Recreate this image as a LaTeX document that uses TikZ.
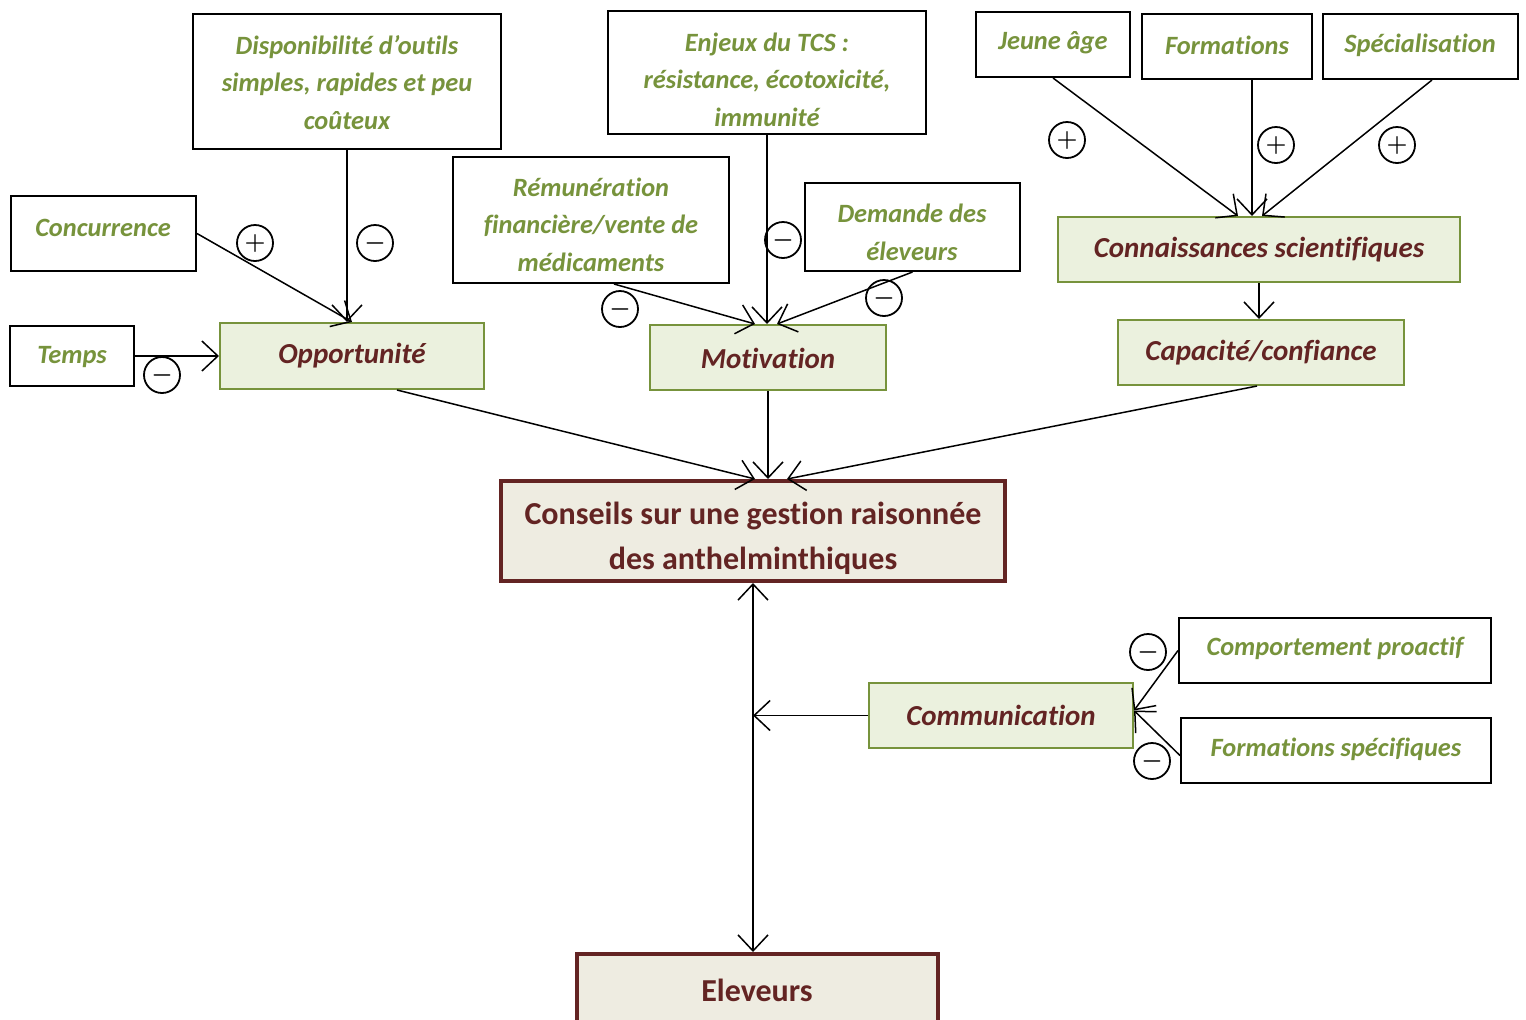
\documentclass[tikz,border=0pt]{standalone}
\usepackage{fontspec}
\setmainfont{Carlito}[Ligatures={NoCommon,NoRare}]
\usetikzlibrary{arrows.meta,fit}
\definecolor{txtgreen}{HTML}{77933C}
\definecolor{boxgreen}{HTML}{EBF1DE}
\definecolor{darkred}{HTML}{632423}
\definecolor{mainfill}{HTML}{EEECE1}
\begin{document}
\begin{tikzpicture}[x=0.5pt,y=-0.5pt,
  wbox/.style={draw=black, line width=1pt, fill=white, inner sep=0pt},
  gbox/.style={draw=txtgreen, line width=1pt, fill=boxgreen, inner sep=0pt},
  mbox/.style={draw=darkred, line width=2pt, fill=mainfill, inner sep=0pt},
  gtxt/.style={text=txtgreen, font=\fontsize{13.2}{18.75}\selectfont\bfseries\itshape, align=center, inner sep=0pt, yshift=-1.25pt},
  rtxt/.style={text=darkred, font=\fontsize{14.5}{17}\selectfont\bfseries\itshape, inner sep=0pt, yshift=-1.5pt},
  mtxt/.style={text=darkred, font=\fontsize{16}{22.5}\selectfont\bfseries, align=center, inner sep=0pt, yshift=-1.5pt},
  sign/.style={circle, draw, line width=0.9pt, minimum size=18pt, inner sep=0pt, font=\fontsize{12}{12}\selectfont\boldmath},
  arr/.style={-{Straight Barb[length=8pt,width=15pt]}, line width=0.75pt},
  darr/.style={{Straight Barb[length=8pt,width=15pt]}-{Straight Barb[length=8pt,width=15pt]}, line width=0.75pt}]
\clip (0,0) rectangle (1526,1019);
\fill[white] (0,0) rectangle (1526,1019);

% white boxes
\node[wbox, fit={(193,14) (501,149)}] (disp) {};
\node[gtxt] (disp-t) at (347,80) {Disponibilité d’outils\\simples, rapides et peu\\coûteux};
\node[wbox, fit={(608,11) (926,134)}] (enj) {};
\node[gtxt] (enj-t) at (767,77) {Enjeux du TCS :\\résistance, écotoxicité,\\immunité};
\node[wbox, fit={(976,12) (1130,77)}] (jeune) {};
\node[gtxt] (jeune-t) at (1053,40) {Jeune âge};
\node[wbox, fit={(1142,14) (1312,79)}] (form) {};
\node[gtxt] (form-t) at (1227,43) {Formations};
\node[wbox, fit={(1323,14) (1518,79)}] (spec) {};
\node[gtxt] (spec-t) at (1420,43) {Spécialisation};
\node[wbox, fit={(11,196) (196,271)}] (conc) {};
\node[gtxt] (conc-t) at (103,225) {Concurrence};
\node[wbox, fit={(10,326) (134,386)}] (temps) {};
\node[gtxt] (temps-t) at (72,355) {Temps};
\node[wbox, fit={(453,157) (729,283)}] (rem) {};
\node[gtxt] (rem-t) at (591,222) {Rémunération\\financière/vente de\\médicaments};
\node[wbox, fit={(805,183) (1020,271)}] (dem) {};
\node[gtxt] (dem-t) at (912,230) {Demande des\\éleveurs};
\node[wbox, fit={(1179,618) (1491,683)}] (comp) {};
\node[gtxt] (comp-t) at (1335,646) {Comportement proactif};
\node[wbox, fit={(1181,718) (1491,783)}] (fs) {};
\node[gtxt] (fs-t) at (1336,747) {Formations spécifiques};

% green boxes
\node[gbox, fit={(220,323) (484,389)}] (opp) {};
\node[rtxt] (opp-t) at (352,353) {Opportunité};
\node[gbox, fit={(650,325) (886,390)}] (mot) {};
\node[rtxt] (mot-t) at (768,355) {Motivation};
\node[gbox, fit={(1058,217) (1460,282)}] (conn) {};
\node[rtxt] (conn-t) at (1259,247) {Connaissances scientifiques};
\node[gbox, fit={(1118,320) (1404,385)}] (cap) {};
\node[rtxt] (cap-t) at (1261,350) {Capacité/confiance};
\node[gbox, fit={(869,683) (1133,748)}] (comm) {};
\node[rtxt] (comm-t) at (1001,712) {Communication};

% main boxes
\node[mbox, fit={(501,481) (1005,581)}] (cons) {};
\node[mtxt] (cons-t) at (753,535) {Conseils sur une gestion raisonnée\\des anthelminthiques};
\node[mbox, fit={(577,954) (938,1040)}] (elev) {};
\node[mtxt] (elev-t) at (757,987) {Eleveurs};

% connectors
\draw[arr] (disp.south) -- (disp.south |- opp.north);
\draw[arr] (conc.east) -- (opp.north);
\draw[arr] (temps.east) -- (temps.east -| opp.west);
\draw[arr] ([xshift=11.5pt]rem.south) -- ([xshift=-6.5pt]mot.north);
\draw[arr] (enj.south) -- (enj.south |- mot.north);
\draw[arr] (dem.south) -- ([xshift=4.5pt]mot.north);
\draw[arr] (jeune.south) -- ([xshift=-10.5pt]conn.north);
\coordinate (formstart) at ([xshift=12.5pt]form.south);
\draw[arr] (formstart) -- (formstart |- conn.north);
\draw[arr] ([xshift=5.75pt]spec.south) -- ([xshift=1.5pt]conn.north);
\draw[arr] (conn.south) -- (conn.south |- cap.north);
\draw[arr] ([xshift=22.5pt]opp.south) -- ([xshift=1pt]cons.north);
\draw[arr] (mot.south) -- (mot.south |- cons.north);
\draw[arr] ([xshift=-2pt]cap.south) -- ([xshift=17pt]cons.north);
\draw[darr] (cons.south) -- (cons.south |- elev.north);
\coordinate (cj) at (cons.south |- comm.west);
\draw[arr] (comm.west) -- (cj);
\draw[arr] (comp.west) -- ([yshift=2.5pt]comm.east);
\draw[arr] ([yshift=-2.5pt]fs.west) -- ([yshift=2.5pt]comm.east);

% signs
\node[sign] (s1) at (255,243) {$+$};
\node[sign] (s2) at (375,243) {$-$};
\node[sign] (s3) at (162,375) {$-$};
\node[sign] (s4) at (620,309) {$-$};
\node[sign] (s5) at (783,240) {$-$};
\node[sign] (s6) at (884,298) {$-$};
\node[sign] (s7) at (1067,140) {$+$};
\node[sign] (s8) at (1276,145) {$+$};
\node[sign] (s9) at (1397,145) {$+$};
\node[sign] (s10) at (1148,652) {$-$};
\node[sign] (s11) at (1152,761) {$-$};
\end{tikzpicture}
\end{document}
